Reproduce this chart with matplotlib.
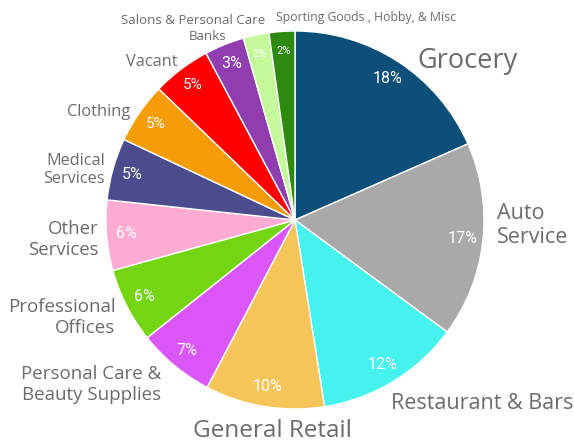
import numpy as np
import matplotlib
matplotlib.use("Agg")
import matplotlib.pyplot as plt

# slice data (clockwise from 12 o'clock)
categories = ["Grocery", "Auto\nService", "Restaurant & Bars", "General Retail",
              "Personal Care &\nBeauty Supplies", "Professional\nOffices", "Other\nServices",
              "Medical\nServices", "Clothing", "Vacant", "Banks", "Salons & Personal Care",
              "Sporting Goods , Hobby, & Misc"]
shares = [18.4, 16.7, 12.4, 10.2, 6.6, 6.4, 6.0, 5.3, 5.2, 5.0, 3.4, 2.2, 2.2]
colors = ["#0e4f7a", "#a9a9a9", "#45f2ee", "#f6c55a", "#db56f6", "#74d514", "#fdabd3",
          "#4b4b8d", "#f59c08", "#ff0000", "#903db0", "#c4f89a", "#2d8a0e"]

# outer label styling: font size (pt), alignment and nudge (px) from slice mid-point on the rim
label_sizes = [19.5, 15.5, 15.5, 17.5, 13.5, 13.5, 13.4, 11.7, 11.8, 11.7, 9.5, 9.5, 8.8]
label_ha = ["left", "left", "left", "center", "right", "right", "right", "right", "right",
            "right", "right", "right", "left"]
label_nudge = [(19, 1), (14, 15), (-2, -22), (8, -25), (-13, -19), (-11, -12), (-8, -4),
               (-8, -1), (-9, 1), (-4, 7), (2, 8), (9, 15), (-6, 14)]
pct_sizes = [11.5, 11.5, 11.5, 11.5, 11.5, 11.5, 11.5, 11.5, 11, 11, 11.5, 8, 8]

W, H, DPI = 574, 442, 100
cx, cy, R = 295, 220, 189  # pie centre / radius in pixels

fig = plt.figure(figsize=(W / DPI, H / DPI), dpi=DPI)
ax = fig.add_axes([0, 0, 1, 1])

wedges, _, pcts = ax.pie(shares, colors=colors, startangle=90, counterclock=False,
                         autopct="%1.0f%%", pctdistance=0.895, radius=1,
                         wedgeprops=dict(edgecolor="white", linewidth=1))

for t, s in zip(pcts, pct_sizes):
    t.set_color("white")
    t.set_fontsize(s)
    t.set_family("Roboto")

for w, lab, fs, ha, (dx, dy) in zip(wedges, categories, label_sizes, label_ha, label_nudge):
    ang = np.deg2rad((w.theta1 + w.theta2) / 2)
    ax.annotate(lab, xy=(np.cos(ang), np.sin(ang)), xytext=(dx * 0.72, dy * 0.72),
                textcoords="offset points", ha=ha, va="center", fontsize=fs,
                color="#6b6b6b", family="Open Sans", linespacing=1.2)

ax.set_aspect("auto")
ax.set_xlim(-cx / R, (W - cx) / R)
ax.set_ylim(-(H - cy) / R, cy / R)
ax.axis("off")

fig.savefig("out.png", dpi=DPI)
